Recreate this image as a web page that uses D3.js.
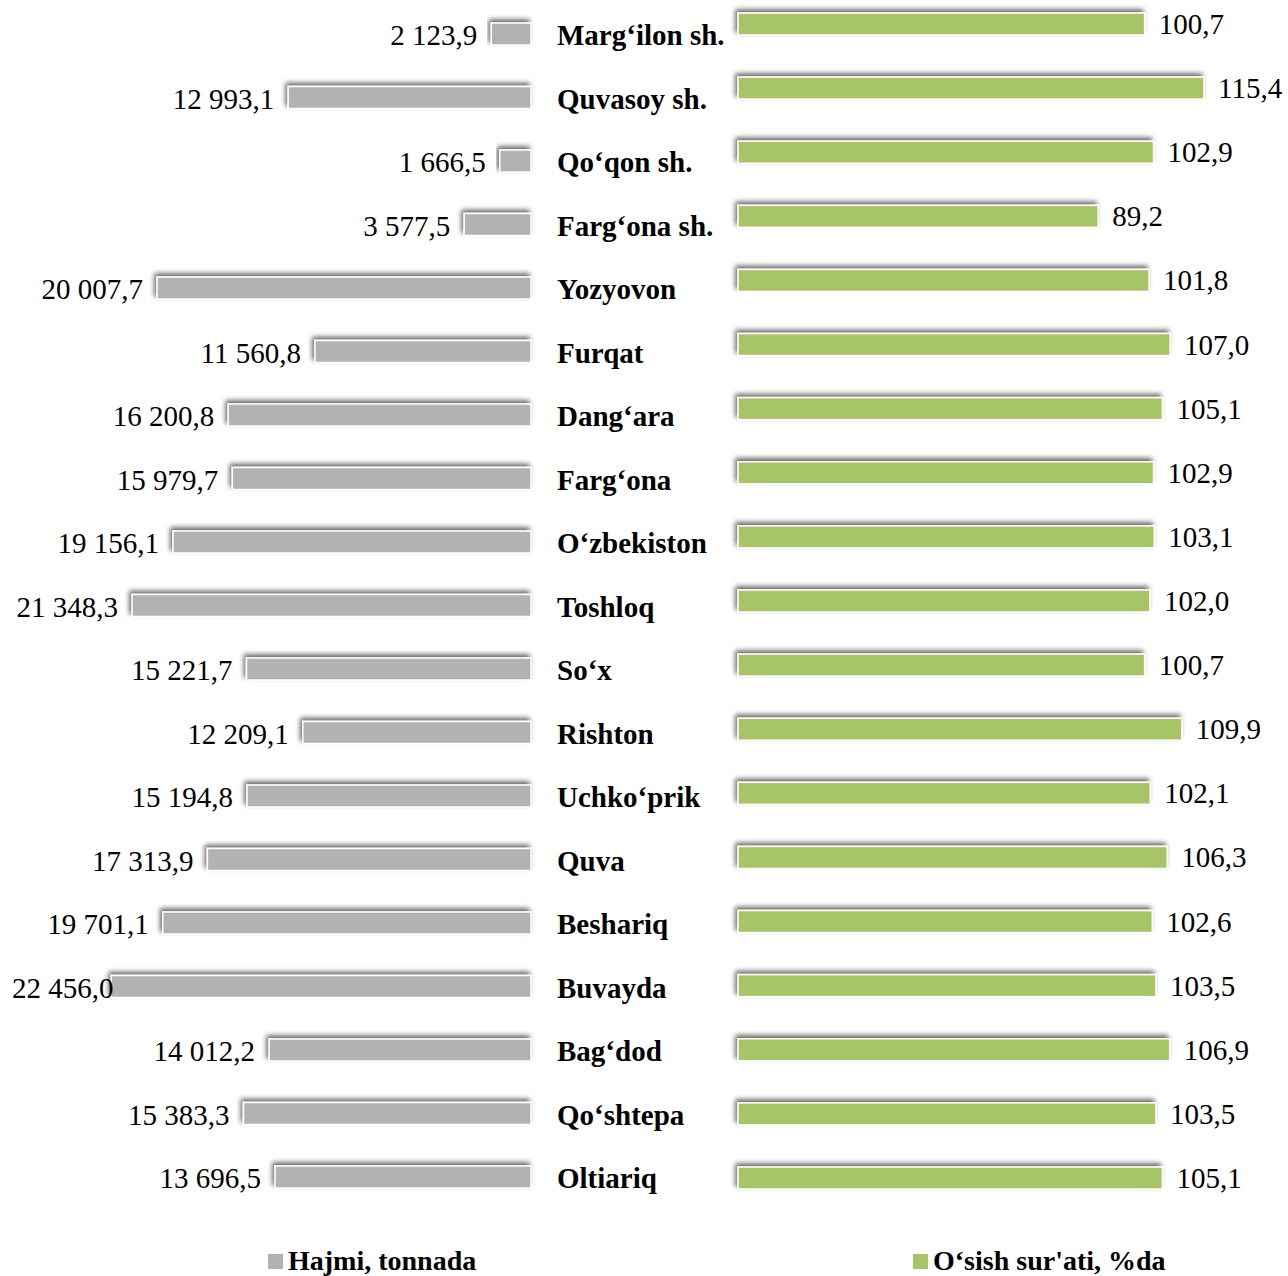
<!DOCTYPE html>
<html>
<head>
<meta charset="utf-8">
<script src="https://cdn.jsdelivr.net/npm/d3@7"></script>
<style>
  html, body { margin: 0; padding: 0; background: #ffffff; }
  svg { display: block; }
  text { font-family: "Liberation Serif", "Times New Roman", serif; fill: #000; }
</style>
</head>
<body>
<div id="chart"></div>
<script>
const categories = ["Marg‘ilon sh.", "Quvasoy sh.", "Qo‘qon sh.", "Farg‘ona sh.", "Yozyovon", "Furqat", "Dang‘ara", "Farg‘ona", "O‘zbekiston", "Toshloq", "So‘x", "Rishton", "Uchko‘prik", "Quva", "Beshariq", "Buvayda", "Bag‘dod", "Qo‘shtepa", "Oltiariq"];
const volume = [2123.9, 12993.1, 1666.5, 3577.5, 20007.7, 11560.8, 16200.8, 15979.7, 19156.1, 21348.3, 15221.7, 12209.1, 15194.8, 17313.9, 19701.1, 22456.0, 14012.2, 15383.3, 13696.5];
const growth = [100.7, 115.4, 102.9, 89.2, 101.8, 107.0, 105.1, 102.9, 103.1, 102.0, 100.7, 109.9, 102.1, 106.3, 102.6, 103.5, 106.9, 103.5, 105.1];
const legendLabels = ["Hajmi, tonnada", "O‘sish sur'ati, %da"];

const W = 1288, H = 1276;
const greyColor = "#b2b2b2", greenColor = "#a7c566";
const fmtVol = v => { const s = v.toFixed(1).split("."); return s[0].replace(/\B(?=(\d{3})+(?!\d))/g, " ") + "," + s[1]; };
const fmtPct = v => v.toFixed(1).replace(".", ",");

const svg = d3.select("#chart").append("svg").attr("width", W).attr("height", H);
svg.append("rect").attr("width", W).attr("height", H).attr("fill", "#fff");

const defs = svg.append("defs");
const f = defs.append("filter").attr("id", "sh").attr("x", "-10%").attr("y", "-70%").attr("width", "120%").attr("height", "240%");
f.append("feGaussianBlur").attr("in", "SourceAlpha").attr("stdDeviation", 2.8).attr("result", "b");
f.append("feOffset").attr("in", "b").attr("dx", -2).attr("dy", -3).attr("result", "o");
f.append("feComponentTransfer").attr("in", "o").attr("result", "o2")
  .append("feFuncA").attr("type", "linear").attr("slope", 0.6);
const m = f.append("feMerge");
m.append("feMergeNode").attr("in", "o2");
m.append("feMergeNode").attr("in", "SourceGraphic");

// scales
const xL = d3.scaleLinear().domain([0, 22456]).range([531, 111.3]);
const xR = d3.scaleLinear().domain([0, 115.4]).range([738, 1204]);
const yL = d3.scalePoint().domain(categories).range([34, 1177]);
const yR = d3.scalePoint().domain(categories).range([24, 1178]);
const barH = 22;

const rows = categories.map((c, i) => ({ c, v: volume[i], g: growth[i] }));

// left bars
svg.append("g").selectAll("rect").data(rows).join("rect")
  .attr("x", d => xL(d.v)).attr("y", d => yL(d.c) - barH / 2)
  .attr("width", d => xL(0) - xL(d.v)).attr("height", barH)
  .attr("fill", greyColor).attr("stroke", "#fff").attr("stroke-width", 1.5)
  .attr("filter", "url(#sh)");

// left labels
const ll = svg.append("g").selectAll("text").data(rows).join("text")
  .attr("font-size", 29)
  .attr("y", d => yL(d.c) + 11)
  .text(d => fmtVol(d.v));
ll.each(function(d) {
  const w = this.getComputedTextLength();
  const x = Math.max(12, xL(d.v) - 14 - w);
  d3.select(this).attr("x", x);
});

// category labels
svg.append("g").selectAll("text").data(rows).join("text")
  .attr("font-size", 29).attr("font-weight", "bold")
  .attr("x", 557).attr("y", d => yL(d.c) + 11)
  .text(d => d.c);

// right bars
svg.append("g").selectAll("rect").data(rows).join("rect")
  .attr("x", xR(0)).attr("y", d => yR(d.c) - barH / 2)
  .attr("width", d => xR(d.g) - xR(0)).attr("height", barH)
  .attr("fill", greenColor).attr("stroke", "#fff").attr("stroke-width", 1.5)
  .attr("filter", "url(#sh)");

// right labels
svg.append("g").selectAll("text").data(rows).join("text")
  .attr("font-size", 29)
  .attr("x", d => xR(d.g) + 14).attr("y", d => yR(d.c) + 10)
  .text(d => fmtPct(d.g));

// legend
const leg = [{ x: 268, c: greyColor, t: legendLabels[0] }, { x: 913, c: greenColor, t: legendLabels[1] }];
const lg = svg.append("g").selectAll("g").data(leg).join("g");
lg.append("rect").attr("x", d => d.x).attr("y", 1254).attr("width", 15).attr("height", 15).attr("fill", d => d.c);
lg.append("text").attr("x", d => d.x + 20).attr("y", 1270).attr("font-size", 28).attr("font-weight", "bold").text(d => d.t);
</script>
</body>
</html>
